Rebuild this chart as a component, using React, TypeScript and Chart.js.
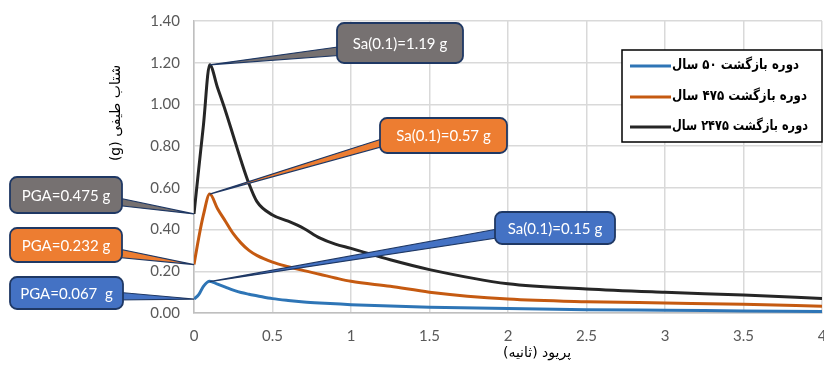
import React, { useEffect, useRef } from "react";
import { Chart, registerables } from "chart.js";

Chart.register(...registerables);

// ---------- data ----------
const periods = [0, 0.03, 0.06, 0.1, 0.15, 0.2, 0.25, 0.3, 0.35, 0.4, 0.5, 0.6, 0.7, 0.8, 0.9, 1.0, 1.25, 1.5, 2.0, 2.5, 3.0, 3.5, 4.0];
const sa50 = [0.067, 0.088, 0.128, 0.152, 0.138, 0.124, 0.11, 0.098, 0.09, 0.083, 0.069, 0.06, 0.053, 0.048, 0.044, 0.04, 0.033, 0.028, 0.021, 0.016, 0.013, 0.01, 0.007];
const sa475 = [0.232, 0.36, 0.47, 0.57, 0.5, 0.44, 0.38, 0.335, 0.3, 0.276, 0.244, 0.222, 0.203, 0.186, 0.168, 0.152, 0.128, 0.1, 0.067, 0.054, 0.048, 0.042, 0.032];
const sa2475 = [0.475, 0.69, 0.9, 1.19, 1.08, 0.97, 0.85, 0.73, 0.62, 0.535, 0.47, 0.44, 0.405, 0.36, 0.33, 0.31, 0.255, 0.208, 0.14, 0.115, 0.099, 0.086, 0.07];

const seriesLabels = ["دوره بازگشت ۵۰ سال", "دوره بازگشت ۴۷۵ سال", "دوره بازگشت ۲۴۷۵ سال"];
const xTitle = "پریود (ثانیه)";
const yTitle = "شتاب طیفی (g)";

// callout annotations: text, anchor period, anchor value
const calloutTexts = ["Sa(0.1)=1.19 g", "Sa(0.1)=0.57 g", "Sa(0.1)=0.15 g", "PGA=0.475 g", "PGA=0.232 g", "PGA=0.067  g"];
const calloutPeriods = [0.1, 0.1, 0.1, 0, 0, 0];
const calloutValues = [1.19, 0.57, 0.15, 0.475, 0.232, 0.067];

// ---------- styles / layout ----------
const seriesColors = ["#2e75b6", "#c55a11", "#262626"];
const calloutFills = ["#767171", "#ed7d31", "#4472c4", "#767171", "#ed7d31", "#4472c4"];
const NAVY = "#1f3864";
const calloutBoxes = [
  { x: 337, y: 23, w: 126, h: 40, side: "left", b1: 46, b2: 55 },
  { x: 380, y: 118, w: 127, h: 35, side: "left", b1: 137, b2: 145 },
  { x: 495, y: 212, w: 120, h: 32, side: "left", b1: 228, b2: 237 },
  { x: 10, y: 177, w: 112, h: 36, side: "right", b1: 197, b2: 205 },
  { x: 10, y: 228, w: 112, h: 34, side: "right", b1: 248, b2: 257 },
  { x: 10, y: 277, w: 113, h: 32, side: "right", b1: 292, b2: 300 },
];
const legendTextWidths = [127, 135, 136];

const calloutPlugin = {
  id: "callouts",
  afterDatasetsDraw(chart: any) {
    const { ctx } = chart;
    const xs = chart.scales.x;
    const ys = chart.scales.y;
    calloutTexts.forEach((text, i) => {
      const b = calloutBoxes[i];
      const tx = xs.getPixelForValue(calloutPeriods[i]);
      const ty = ys.getPixelForValue(calloutValues[i]);
      const ex = b.side === "left" ? b.x + 8 : b.x + b.w - 8;
      ctx.save();
      ctx.beginPath();
      ctx.moveTo(ex, b.b1);
      ctx.lineTo(tx, ty);
      ctx.lineTo(ex, b.b2);
      ctx.closePath();
      ctx.fillStyle = calloutFills[i];
      ctx.fill();
      ctx.strokeStyle = NAVY;
      ctx.lineWidth = 1.2;
      ctx.stroke();
      ctx.beginPath();
      ctx.roundRect(b.x, b.y, b.w, b.h, 7);
      ctx.fillStyle = calloutFills[i];
      ctx.fill();
      ctx.lineWidth = 1.8;
      ctx.strokeStyle = NAVY;
      ctx.stroke();
      ctx.fillStyle = "#ffffff";
      ctx.font = "15px Lato";
      ctx.textAlign = "center";
      ctx.textBaseline = "middle";
      ctx.fillText(text, b.x + b.w / 2, b.y + b.h / 2 + 1);
      ctx.restore();
    });
  },
};

const decorPlugin = {
  id: "decor",
  afterDraw(chart: any) {
    const { ctx } = chart;
    ctx.save();
    // legend
    const lx = 622, ly = 50, lw = 200, lh = 92;
    ctx.fillStyle = "#ffffff";
    ctx.fillRect(lx, ly, lw, lh);
    ctx.strokeStyle = "#000000";
    ctx.lineWidth = 1.5;
    ctx.strokeRect(lx, ly, lw, lh);
    const rows = [66, 97, 127];
    seriesLabels.forEach((lab, i) => {
      ctx.strokeStyle = seriesColors[i];
      ctx.lineWidth = 3;
      ctx.beginPath();
      ctx.moveTo(630, rows[i]);
      ctx.lineTo(671, rows[i]);
      ctx.stroke();
      ctx.save();
      ctx.fillStyle = "#000000";
      ctx.font = "bold 14px 'DejaVu Sans'";
      ctx.direction = "rtl";
      ctx.textAlign = "left";
      ctx.textBaseline = "middle";
      const w = ctx.measureText(lab).width;
      const k = Math.min(1, legendTextWidths[i] / w);
      ctx.translate(672, rows[i] - 1);
      ctx.scale(k, 1);
      ctx.fillText(lab, 0, 0);
      ctx.restore();
    });
    // x title
    ctx.direction = "rtl";
    ctx.fillStyle = "#000000";
    ctx.font = "14px 'DejaVu Sans'";
    ctx.textAlign = "center";
    ctx.textBaseline = "middle";
    ctx.fillText(xTitle, 537, 353);
    // y title
    ctx.translate(116, 113);
    ctx.rotate(-Math.PI / 2);
    ctx.fillText(yTitle, 0, 0);
    ctx.restore();
  },
};

export default function App() {
  const ref = useRef<HTMLCanvasElement | null>(null);
  useEffect(() => {
    document.body.style.margin = "0";
    if (!ref.current) return;
    const mk = (vals: number[]) => periods.map((p, i) => ({ x: p, y: vals[i] }));
    const chart = new Chart(ref.current, {
      type: "line",
      data: {
        datasets: [sa50, sa475, sa2475].map((vals, i) => ({
          label: seriesLabels[i],
          data: mk(vals),
          borderColor: seriesColors[i],
          backgroundColor: seriesColors[i],
          borderWidth: 3,
          pointRadius: 0,
          cubicInterpolationMode: "monotone" as const,
          fill: false,
        })),
      },
      options: {
        animation: false,
        responsive: false,
        maintainAspectRatio: false,
        layout: { padding: { top: 21, right: 2, left: 0, bottom: 0 } },
        plugins: { legend: { display: false }, tooltip: { enabled: false } },
        scales: {
          x: {
            type: "linear",
            min: 0,
            max: 4,
            ticks: {
              stepSize: 0.5,
              color: "#595959",
              font: { family: "Lato", size: 15 },
              padding: 14,
              maxRotation: 0,
              callback: (v: any) => String(Number(v)),
            },
            grid: { color: "#d9d9d9", lineWidth: 1.5, drawTicks: false },
            border: { color: "#bfbfbf", width: 1.5 },
            afterFit: (s: any) => {
              s.height = 52;
              s.paddingLeft = 0;
              s.paddingRight = 0;
            },
          },
          y: {
            min: 0,
            max: 1.4,
            ticks: {
              stepSize: 0.2,
              color: "#595959",
              font: { family: "Lato", size: 15 },
              padding: 14,
              callback: (v: any) => Number(v).toFixed(2),
            },
            grid: { color: "#d9d9d9", lineWidth: 1.5, drawTicks: false },
            border: { color: "#bfbfbf", width: 1.5 },
            afterFit: (s: any) => {
              s.width = 194;
              s.paddingTop = 0;
              s.paddingBottom = 0;
            },
          },
        },
      },
      plugins: [calloutPlugin, decorPlugin],
    });
    return () => chart.destroy();
  }, []);
  return (
    <div style={{ position: "absolute", left: 0, top: 0, width: 824, height: 365, background: "#fff" }}>
      <canvas ref={ref} width={824} height={365} style={{ width: 824, height: 365 }} />
    </div>
  );
}
